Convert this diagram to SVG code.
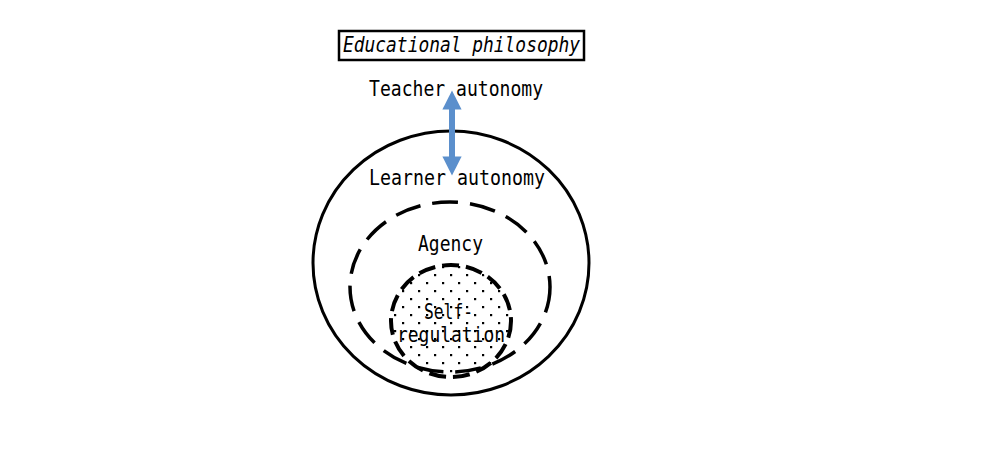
<svg xmlns="http://www.w3.org/2000/svg" width="984" height="460" viewBox="0 0 984 460">
<style>
.t{font-family:"DejaVu Sans Mono","Liberation Mono",monospace;font-size:22px;fill:#000}
</style>
<defs>
<pattern id="dots" width="16" height="16" patternUnits="userSpaceOnUse">
<rect x="2" y="2" width="2.2" height="2.2" fill="#000"/>
<rect x="10" y="10" width="2.2" height="2.2" fill="#000"/>
</pattern>
<marker id="ah" viewBox="0 0 10 10" refX="5" refY="5" markerWidth="3.2" markerHeight="3.2" orient="auto-start-reverse" markerUnits="strokeWidth">
<path d="M0,0 L10,5 L0,10 Z" fill="#5b8fcc"/>
</marker>
</defs>
<rect width="984" height="460" fill="#fff"/>
<g id="title">
<rect x="339" y="31" width="245" height="29" fill="#fff" stroke="#000" stroke-width="2.5"/>
<text class="t" x="343" y="52" font-style="italic" textLength="237" lengthAdjust="spacingAndGlyphs">Educational philosophy</text>
</g>
<g id="teacher">
<text class="t" x="369" y="96" textLength="174" lengthAdjust="spacingAndGlyphs">Teacher autonomy</text>
</g>
<g id="learner">
<ellipse cx="451" cy="263" rx="138" ry="132" fill="none" stroke="#000" stroke-width="3"/>
<text class="t" x="369" y="185" textLength="176" lengthAdjust="spacingAndGlyphs">Learner autonomy</text>
</g>
<g id="agency">
<ellipse cx="450" cy="287" rx="100" ry="85" fill="none" stroke="#000" stroke-width="3.5" stroke-dasharray="26 12"/>
<text class="t" x="418" y="251" textLength="65" lengthAdjust="spacingAndGlyphs">Agency</text>
</g>
<g id="selfreg">
<ellipse cx="451" cy="321" rx="60" ry="56" fill="url(#dots)" stroke="#000" stroke-width="4" stroke-dasharray="17 7"/>
<text class="t" x="424" y="319" textLength="49" lengthAdjust="spacingAndGlyphs">Self-</text>
<text class="t" x="397" y="342" textLength="108" lengthAdjust="spacingAndGlyphs">regulation</text>
</g>
<g id="connectors">
<line x1="452" y1="100" x2="452" y2="166" stroke="#5b8fcc" stroke-width="6" marker-start="url(#ah)" marker-end="url(#ah)"/>
</g>
</svg>
